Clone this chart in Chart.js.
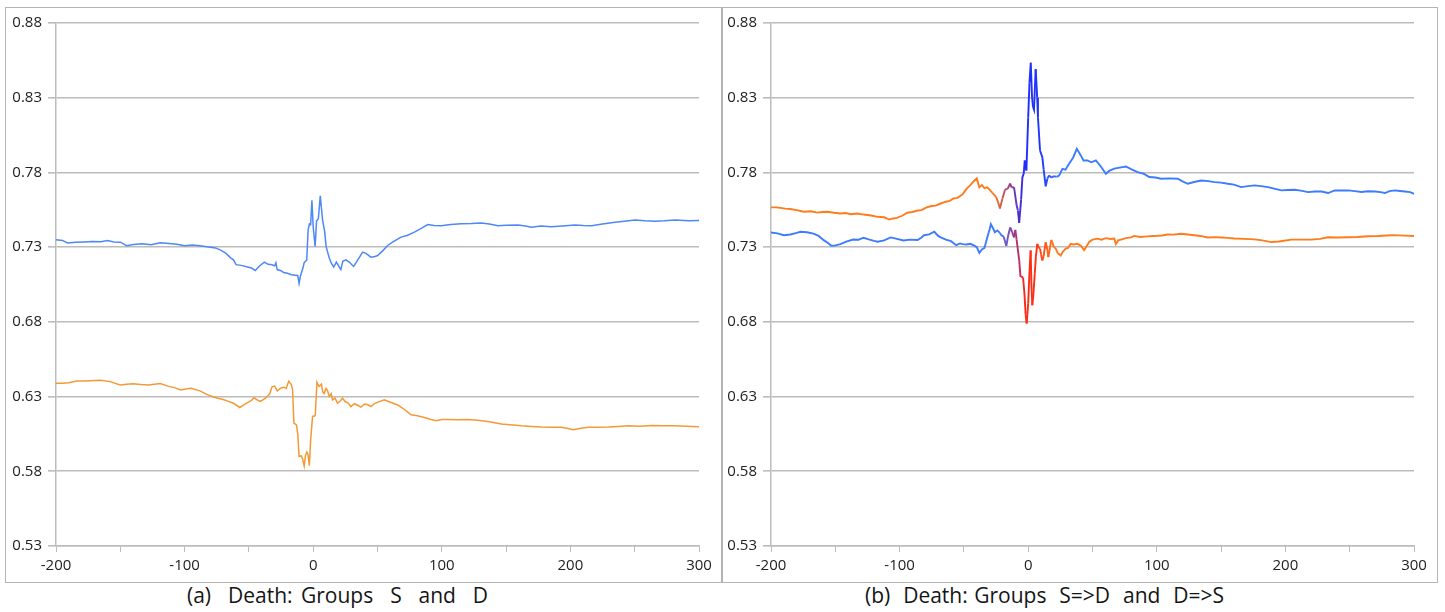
<!DOCTYPE html>
<html>
<head>
<meta charset="utf-8">
<script src="https://cdn.jsdelivr.net/npm/chart.js@4.4.0/dist/chart.umd.min.js"></script>
<style>
  body { margin: 0; background: #fff; width: 1445px; height: 612px; position: relative; overflow: hidden; }
  .box { position: absolute; top: 7px; height: 574px; border: 1px solid #b4b4b4; }
  #boxA { left: 5px; width: 716px; }
  #boxB { left: 721px; width: 715px; }
  canvas { position: absolute; }
  .caption { position: absolute; top: 581px; font-family: "Open Sans", sans-serif; font-size: 21px; color: #151515; white-space: pre; }
</style>
</head>
<body>
<div class="box" id="boxA"></div>
<div class="box" id="boxB"></div>
<canvas id="chartA" style="left:6px; top:8px; width:715px; height:573px;" width="715" height="573"></canvas>
<canvas id="chartB" style="left:723px; top:8px; width:713px; height:573px;" width="713" height="573"></canvas>
<div class="caption" style="left:187px; word-spacing:3px;">(a)  Death: Groups  S  and  D</div>
<div class="caption" style="left:865px; word-spacing:1px;">(b)  Death: Groups  S=&gt;D  and  D=&gt;S</div>

<script>
// tick values
const xTicks = [-200, -150, -100, -50, 0, 50, 100, 150, 200, 250, 300];
const yTicks = [0.53, 0.58, 0.63, 0.68, 0.73, 0.78, 0.83, 0.88];

// (a) group S (blue)
const aBlueX = [-200, -195, -191, -185, -178, -172, -165, -160, -155, -150, -145, -140, -133, -126, -119, -112, -106, -100, -94, -88, -84, -80, -76, -72, -68, -64, -62, -60, -56, -51, -48, -45, -42, -38, -35, -32, -30, -29, -28, -25, -23, -20, -17, -14, -12, -11, -10, -8, -7, -5, -4, -3, -2, -1, 0, 1.5, 2.6, 4, 5.5, 7.3, 9, 10, 12.5, 14, 16, 18, 19.5, 21.5, 23, 25.5, 28, 31.4, 34, 38.4, 41, 44.9, 48, 50.1, 54, 57.9, 62, 68.3, 73, 78.7, 84, 89.1, 94, 99.5, 107, 115, 123, 130.7, 137, 143.7, 150, 159.3, 165, 169.7, 177, 185, 194, 203.5, 210, 216.5, 225, 234.7, 242, 250.3, 258, 265.9, 273, 281.5, 291.9, 300];
const aBlueY = [0.735, 0.7345, 0.7328, 0.7332, 0.7335, 0.7338, 0.7336, 0.7344, 0.7335, 0.7333, 0.731, 0.7318, 0.7322, 0.7316, 0.733, 0.7325, 0.732, 0.731, 0.7315, 0.731, 0.7305, 0.730, 0.7295, 0.728, 0.726, 0.7227, 0.7215, 0.7183, 0.7178, 0.7167, 0.716, 0.7144, 0.7172, 0.720, 0.7185, 0.7182, 0.7175, 0.7195, 0.715, 0.7142, 0.713, 0.7125, 0.7115, 0.7112, 0.711, 0.7058, 0.7105, 0.716, 0.7196, 0.7214, 0.741, 0.7455, 0.745, 0.7613, 0.7435, 0.7305, 0.7475, 0.749, 0.7644, 0.748, 0.740, 0.7305, 0.7227, 0.7195, 0.7167, 0.720, 0.7178, 0.715, 0.7205, 0.7215, 0.720, 0.7171, 0.7205, 0.7267, 0.7258, 0.7233, 0.7238, 0.7244, 0.7275, 0.7311, 0.7335, 0.7367, 0.7378, 0.740, 0.7425, 0.7451, 0.7445, 0.7444, 0.7452, 0.7456, 0.7458, 0.7462, 0.7455, 0.7444, 0.7446, 0.7448, 0.7442, 0.7433, 0.7441, 0.7437, 0.7442, 0.7448, 0.7445, 0.7444, 0.7455, 0.7467, 0.7474, 0.7482, 0.7476, 0.7474, 0.7476, 0.7482, 0.7476, 0.7478];

// (a) group D (orange)
const aOrangeX = [-200, -195, -190, -184, -178, -170, -165, -158, -150, -145, -140, -134, -128, -119, -113, -108, -103, -98, -95, -88, -84, -80, -75, -70, -67, -62, -57, -54, -51, -48, -46, -43, -41, -38, -36, -34, -32, -30, -28, -25, -23, -21, -19, -17, -16, -15, -13, -12, -11, -9.5, -8.3, -7, -6, -5, -4, -3, -2, -0.5, 1.6, 2.9, 4.6, 6.4, 7.5, 8.5, 10, 11, 12.5, 14, 15, 17, 18.9, 21, 22.8, 25, 27, 29.3, 32, 35, 37.1, 40, 42.5, 44.9, 48, 52, 55.3, 60, 65.7, 70, 76.1, 81, 86.5, 91, 95.6, 100, 104.7, 112, 120.3, 128, 135.9, 141, 146.3, 153, 161.9, 170, 177.5, 185, 193.1, 198, 202.2, 208, 213.9, 220, 229.5, 237, 245.1, 254, 263.3, 272, 281.5, 290, 300];
const aOrangeY = [0.6389, 0.6389, 0.6392, 0.6404, 0.6405, 0.6408, 0.6409, 0.640, 0.6378, 0.6382, 0.6385, 0.638, 0.6378, 0.6388, 0.637, 0.636, 0.6344, 0.6352, 0.6355, 0.6338, 0.632, 0.6305, 0.629, 0.628, 0.6271, 0.6255, 0.6227, 0.6245, 0.626, 0.6275, 0.6292, 0.6275, 0.6268, 0.6285, 0.6298, 0.6315, 0.6365, 0.637, 0.6338, 0.6358, 0.6362, 0.6355, 0.6402, 0.638, 0.6345, 0.6123, 0.611, 0.605, 0.590, 0.5905, 0.5885, 0.5836, 0.5905, 0.5928, 0.5912, 0.5837, 0.6006, 0.6167, 0.6172, 0.6396, 0.6367, 0.6384, 0.633, 0.632, 0.6355, 0.6344, 0.630, 0.632, 0.6278, 0.629, 0.6256, 0.627, 0.6289, 0.6265, 0.6258, 0.6233, 0.6252, 0.624, 0.6229, 0.625, 0.6245, 0.6233, 0.6255, 0.6268, 0.6278, 0.6262, 0.6244, 0.622, 0.6178, 0.6172, 0.616, 0.6148, 0.6138, 0.6147, 0.6147, 0.6145, 0.6147, 0.6142, 0.6133, 0.6125, 0.6116, 0.6112, 0.6104, 0.610, 0.6096, 0.6095, 0.6094, 0.6086, 0.6078, 0.6088, 0.6094, 0.6094, 0.6096, 0.610, 0.6104, 0.6102, 0.6106, 0.6104, 0.6104, 0.6102, 0.6098];

// (b) upper line: S=>D (orange before death, blue after)
const bUpX = [-200, -196, -192.7, -189, -185, -180, -174.5, -169, -164, -160, -156, -151, -146, -142, -138, -133, -128, -122, -117, -112, -108, -105, -102, -98, -94, -90, -86, -83, -79, -75, -72, -68, -64, -61, -58, -55, -51, -48, -45, -43, -40, -38, -36, -34, -32, -30, -28, -25, -23, -22, -20, -18, -16, -14, -13, -11, -9, -8, -7, -5.5, -4.5, -3.5, -2.7, -1.4, 0, 1, 2, 3, 3.8, 4.5, 5.8, 7, 7.6, 9.2, 11, 12, 13.6, 15, 16.2, 18, 20, 22, 24, 26.6, 29, 31.8, 35, 37.8, 40.9, 43, 46.1, 49, 52.6, 56.5, 60.4, 63, 66.9, 71, 76, 80, 85.1, 90, 94.2, 99, 103.3, 110, 116.3, 120, 124.1, 129, 134.5, 140, 144.9, 150, 155.3, 160, 165.6, 171, 176, 181, 186.5, 192, 196.8, 202, 207.2, 212, 217.6, 223, 228, 233.2, 238.4, 244, 248.8, 254, 259.2, 264, 269.6, 274, 277.4, 281, 285.2, 289, 293, 297, 300];
const bUpY = [0.7566, 0.7566, 0.7563, 0.7558, 0.7555, 0.7548, 0.7537, 0.754, 0.7531, 0.7535, 0.7537, 0.753, 0.7525, 0.7528, 0.752, 0.7525, 0.7518, 0.7512, 0.7503, 0.750, 0.7485, 0.7492, 0.7496, 0.751, 0.753, 0.7535, 0.7545, 0.7548, 0.7566, 0.7575, 0.7578, 0.7592, 0.7604, 0.761, 0.7626, 0.763, 0.7653, 0.769, 0.7715, 0.7735, 0.776, 0.770, 0.7715, 0.7695, 0.770, 0.7685, 0.7665, 0.7637, 0.759, 0.7559, 0.7625, 0.7686, 0.769, 0.7726, 0.770, 0.770, 0.758, 0.7545, 0.7462, 0.762, 0.7769, 0.779, 0.788, 0.7813, 0.8169, 0.840, 0.8536, 0.830, 0.8236, 0.822, 0.8491, 0.830, 0.8169, 0.7947, 0.7902, 0.782, 0.7707, 0.776, 0.778, 0.7765, 0.7775, 0.777, 0.7778, 0.7824, 0.7818, 0.7858, 0.790, 0.7958, 0.7914, 0.788, 0.788, 0.7868, 0.788, 0.784, 0.7791, 0.781, 0.7825, 0.7832, 0.784, 0.7822, 0.7802, 0.779, 0.7769, 0.7766, 0.7758, 0.776, 0.7758, 0.774, 0.7724, 0.7736, 0.7746, 0.7742, 0.7735, 0.7732, 0.7724, 0.7718, 0.7702, 0.7708, 0.7713, 0.7708, 0.7702, 0.769, 0.768, 0.7682, 0.7684, 0.7678, 0.7668, 0.7672, 0.7672, 0.7662, 0.768, 0.7679, 0.768, 0.7675, 0.7669, 0.7674, 0.7672, 0.7668, 0.7662, 0.7675, 0.768, 0.7676, 0.7672, 0.7668, 0.7657];

// (b) lower line: D=>S (blue before death, orange after)
const bLowX = [-200, -195, -190, -185, -180, -177, -172, -167, -163, -159, -156, -153, -150, -146, -141, -136, -132, -128, -124, -120, -117, -112, -107, -102, -97, -92, -86, -83, -81, -77, -73, -70, -68, -64, -60, -56, -53, -51, -48, -45, -42, -40, -38, -36, -34, -32, -30, -29, -27, -26, -24, -22, -21, -19, -17, -15.5, -14, -12.5, -11, -10, -9, -7, -6, -5, -4, -3, -2, -1.2, 0, 0.8, 1.9, 2.5, 3.2, 4, 5.1, 6, 7.1, 8, 9.2, 10, 11, 12, 13.6, 15, 15.7, 17, 18, 20, 21.4, 23, 25.3, 27, 29.2, 31, 33.1, 35, 38.3, 40.9, 43.5, 45, 47.4, 50, 53.9, 57, 60.4, 64, 66.9, 68.2, 70, 72.1, 76, 79.9, 82.5, 87, 92.9, 97, 100.7, 104, 108.5, 113, 118.9, 124, 129.3, 134, 139.7, 145, 150.1, 155, 160.5, 168, 176, 182, 189, 195, 204.6, 212, 220.2, 227, 233.2, 240, 248.8, 256, 264.4, 272, 282.6, 288, 293, 300];
const bLowY = [0.7398, 0.7392, 0.738, 0.7385, 0.7395, 0.7403, 0.740, 0.739, 0.7375, 0.7347, 0.733, 0.7309, 0.7312, 0.732, 0.7338, 0.7351, 0.735, 0.7363, 0.7352, 0.7342, 0.7336, 0.7345, 0.7365, 0.7355, 0.7345, 0.735, 0.7348, 0.7365, 0.738, 0.7385, 0.7403, 0.7375, 0.7365, 0.735, 0.734, 0.7313, 0.7325, 0.732, 0.7318, 0.7322, 0.731, 0.730, 0.7262, 0.7285, 0.7295, 0.736, 0.742, 0.7454, 0.742, 0.740, 0.7412, 0.7395, 0.738, 0.737, 0.7308, 0.738, 0.7432, 0.740, 0.7365, 0.7415, 0.735, 0.7213, 0.7101, 0.7105, 0.7095, 0.700, 0.685, 0.6789, 0.6922, 0.710, 0.7278, 0.705, 0.6911, 0.698, 0.7122, 0.724, 0.7322, 0.730, 0.729, 0.725, 0.7211, 0.724, 0.7333, 0.728, 0.7233, 0.730, 0.7349, 0.730, 0.729, 0.726, 0.7244, 0.727, 0.729, 0.7295, 0.7322, 0.7318, 0.7322, 0.731, 0.728, 0.730, 0.7335, 0.735, 0.7357, 0.735, 0.736, 0.7355, 0.7357, 0.7321, 0.7345, 0.735, 0.736, 0.7365, 0.7375, 0.7368, 0.7372, 0.7375, 0.7376, 0.7378, 0.7385, 0.7384, 0.739, 0.7385, 0.738, 0.7375, 0.7365, 0.7367, 0.7365, 0.7362, 0.7358, 0.7355, 0.7352, 0.7345, 0.7334, 0.7338, 0.735, 0.735, 0.735, 0.7355, 0.7366, 0.7365, 0.7366, 0.7368, 0.7373, 0.7375, 0.738, 0.7379, 0.7377, 0.7375];

const GRID = '#bcbcbc';
const TEXT = '#222222';
const FONT = { family: '"Open Sans", sans-serif', size: 15 };

function toPoints(xs, ys) {
    return xs.map((x, i) => ({ x: x, y: ys[i] }));
}

// blend colours along x near the death event (panel b)
function hexToRgb(h) {
    return [parseInt(h.slice(1, 3), 16), parseInt(h.slice(3, 5), 16), parseInt(h.slice(5, 7), 16)];
}
function colorAt(stops, x) {
    if (x <= stops[0][0]) return stops[0][1];
    for (let i = 1; i < stops.length; i++) {
        if (x <= stops[i][0]) {
            const t = (x - stops[i - 1][0]) / (stops[i][0] - stops[i - 1][0]);
            const a = hexToRgb(stops[i - 1][1]), b = hexToRgb(stops[i][1]);
            const c = a.map((v, k) => Math.round(v + (b[k] - v) * t));
            return `rgb(${c[0]},${c[1]},${c[2]})`;
        }
    }
    return stops[stops.length - 1][1];
}
const upStops = [[-27, '#ff7b1c'], [-15, '#a0457f'], [-7, '#4a2fd0'], [-2, '#1f2cff'], [10, '#1f35ff'], [24, '#3d7bff']];
const lowStops = [[-22, '#3d7bff'], [-13, '#8a3fa8'], [-7, '#c03060'], [-2, '#ff2a14'], [6, '#ff2f14'], [20, '#ff7b1c']];

function makeChart(id, datasets, yWidth) {
    return new Chart(document.getElementById(id), {
        type: 'line',
        data: { datasets: datasets },
        options: {
            responsive: false,
            animation: false,
            layout: { padding: { top: 14, right: 22, left: 0, bottom: 0 } },
            plugins: { legend: { display: false }, tooltip: { enabled: false } },
            elements: { point: { radius: 0 }, line: { tension: 0 } },
            scales: {
                x: {
                    type: 'linear',
                    min: -200,
                    max: 300,
                    afterBuildTicks: function(scale) {
                        scale.ticks = xTicks.map(v => ({ value: v }));
                    },
                    afterFit: function(scale) { scale.height = 35; },
                    ticks: {
                        color: TEXT,
                        font: FONT,
                        padding: 5,
                        maxRotation: 0,
                        autoSkip: false,
                        callback: function(value) {
                            return value % 100 === 0 ? String(value) : '';
                        }
                    },
                    grid: { drawOnChartArea: false, drawTicks: true, tickLength: 6, color: GRID, lineWidth: 1 },
                    border: { display: true, color: GRID, width: 1.5 }
                },
                y: {
                    type: 'linear',
                    min: 0.53,
                    max: 0.88,
                    afterBuildTicks: function(scale) {
                        scale.ticks = yTicks.map(v => ({ value: v }));
                    },
                    afterFit: function(scale) { scale.width = yWidth; },
                    ticks: {
                        color: TEXT,
                        font: FONT,
                        padding: 6,
                        callback: function(value) { return value.toFixed(2); }
                    },
                    grid: { drawTicks: true, tickLength: 8, color: GRID, lineWidth: 1.6 },
                    border: { display: true, color: GRID, width: 1.5 }
                }
            }
        }
    });
}

makeChart('chartA', [
    { label: 'S', data: toPoints(aBlueX, aBlueY), borderColor: '#4f87f7', borderWidth: 1.5 },
    { label: 'D', data: toPoints(aOrangeX, aOrangeY), borderColor: '#f39a36', borderWidth: 1.5 }
], 50);

makeChart('chartB', [
    {
        label: 'S=>D', data: toPoints(bUpX, bUpY), borderColor: '#3d7bff', borderWidth: 1.9,
        segment: { borderColor: ctx => colorAt(upStops, (ctx.p0.parsed.x + ctx.p1.parsed.x) / 2) }
    },
    {
        label: 'D=>S', data: toPoints(bLowX, bLowY), borderColor: '#ff7b1c', borderWidth: 1.9,
        segment: { borderColor: ctx => colorAt(lowStops, (ctx.p0.parsed.x + ctx.p1.parsed.x) / 2) }
    }
], 48);
</script>
</body>
</html>
